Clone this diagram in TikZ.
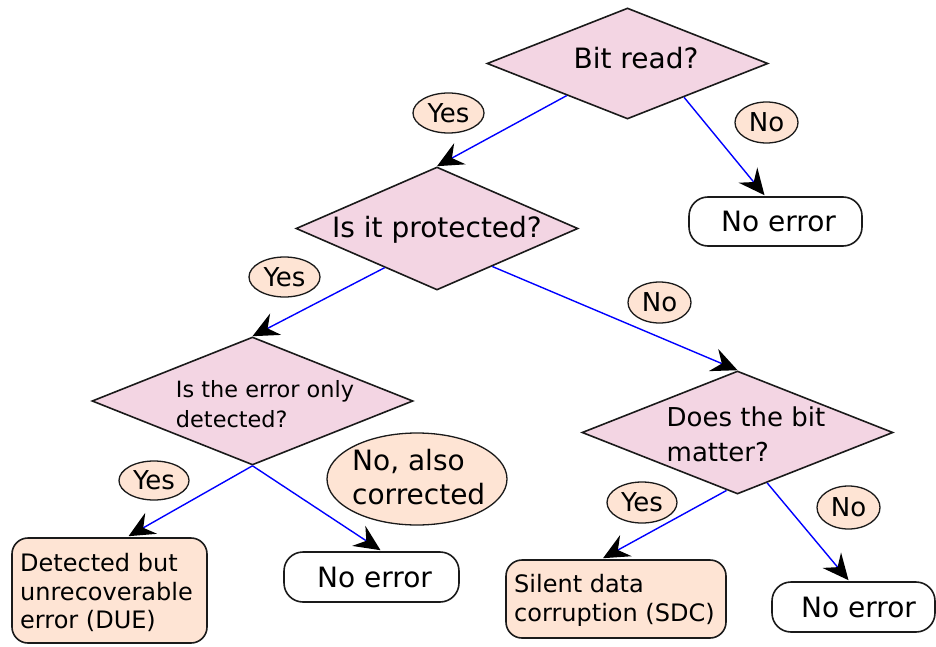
\documentclass[tikz,border=0pt]{standalone}
\usepackage{fontspec}
\setmainfont{DejaVu Sans}
\usetikzlibrary{shapes.geometric,arrows.meta,calc}

\definecolor{decpink}{HTML}{F3D5E3}
\definecolor{peach}{HTML}{FEE4D4}
\definecolor{edgeblack}{HTML}{1A1A1A}

\tikzset{
  decision/.style={diamond, draw=edgeblack, line width=1.6pt, fill=decpink, inner sep=0pt},
  qtext/.style={font=\fontsize{28}{34}\selectfont, align=left, inner sep=0pt},
  qsmall/.style={font=\fontsize{22.4}{30}\selectfont, align=left, inner sep=0pt},
  endbox/.style={draw=edgeblack, line width=1.6pt, rounded corners=19pt, fill=white,
    font=\fontsize{28}{34}\selectfont, inner sep=0pt},
  outbox/.style={draw=edgeblack, line width=1.6pt, rounded corners=16pt, fill=peach, inner sep=0pt},
  outtext/.style={font=\fontsize{24}{28.6}\selectfont, align=left, inner sep=0pt},
  answer/.style={ellipse, draw=edgeblack, line width=1.3pt, fill=peach, inner sep=0pt,
    font=\fontsize{26}{30}\selectfont},
  flow/.style={draw=blue, line width=1.4pt,
    -{Stealth[length=26pt, width=24pt, inset=9pt, color=black]}}
}

\begin{document}
\begin{tikzpicture}[x=1pt, y=-1pt]
  \useasboundingbox (0,0) rectangle (936,647);

  % decision diamonds
  \node[decision, minimum width=281pt, minimum height=111pt] (d1) at (627.5,63.5) {};
  \node[qtext] (d1t) at (636,58) {Bit read?};

  \node[decision, minimum width=282pt, minimum height=123pt] (d2) at (437,228.5) {};
  \node[qtext] (d2t) at (437,230) {Is it protected?};

  \node[decision, minimum width=321pt, minimum height=128pt] (d3) at (252.5,401) {};
  \node[qsmall] (d3t) at (265,404) {Is the error only\\detected?};

  \node[decision, minimum width=311pt, minimum height=123pt] (d4) at (737.5,432.5) {};
  \node[qtext, font=\fontsize{26}{35}\selectfont] (d4t) at (746,434) {Does the bit\\matter?};

  % outcomes
  \node[endbox, minimum width=173pt, minimum height=49pt] (ok1) at (775.5,221.5) {\hspace*{6pt}No error};
  \node[endbox, minimum width=175pt, minimum height=50pt] (ok2) at (371.5,577) {\hspace*{6pt}No error};
  \node[endbox, minimum width=163pt, minimum height=50pt] (ok3) at (853.5,607) {\hspace*{10pt}No error};

  \node[outbox, minimum width=195pt, minimum height=105pt] (due) at (109.5,590.5) {};
  \node[outtext, anchor=north west] (duet) at (20,553)
    {Detected but\\unrecoverable\\error (DUE)};
  \node[outbox, minimum width=220pt, minimum height=78pt] (sdc) at (616,599) {};
  \node[outtext, anchor=north west] (sdct) at (514,574)
    {Silent data\\corruption (SDC)};

  % answer labels
  \node[answer, minimum width=71pt, minimum height=40pt] (y1) at (448.5,113) {Yes};
  \node[answer, minimum width=63pt, minimum height=41pt] (n1) at (766.5,122.5) {No};
  \node[answer, minimum width=71pt, minimum height=40pt] (y2) at (284.5,277) {Yes};
  \node[answer, minimum width=63pt, minimum height=41pt] (n2) at (659.5,302.5) {No};
  \node[answer, minimum width=70pt, minimum height=39pt] (y3) at (154,480.5) {Yes};
  \node[answer, minimum width=180pt, minimum height=92pt] (n3) at (417,479) {};
  \node[qtext, font=\fontsize{28}{34}\selectfont, anchor=north west] (n3t) at (352,449)
    {No, also\\corrected};
  \node[answer, minimum width=70pt, minimum height=41pt] (y4) at (642,502.5) {Yes};
  \node[answer, minimum width=63pt, minimum height=43pt] (n4) at (848.5,507.5) {No};

  % arrow end points at the top of each target
  \coordinate (ok1top) at ($(ok1.north)+(-11,-1)$);
  \coordinate (ok2top) at ($(ok2.north)+(9,-1)$);
  \coordinate (ok3top) at ($(ok3.north)+(-5,-1)$);
  \coordinate (duetop) at ($(due.north)+(19,-1)$);
  \coordinate (sdctop) at ($(sdc.north)+(-13,-1)$);

  % connectors
  \draw[flow] ($(d1.west)!0.57!(d1.south)$) -- (d2.north);
  \draw[flow] ($(d1.east)!0.6!(d1.south)$) -- (ok1top);
  \draw[flow] ($(d2.west)!0.63!(d2.south)$) -- (d3.north);
  \draw[flow] ($(d2.east)!0.61!(d2.south)$) -- (d4.north);
  \draw[flow] (d3.south) -- (duetop);
  \draw[flow] (d3.south) -- (ok2top);
  \draw[flow] ($(d4.west)!0.93!(d4.south)$) -- (sdctop);
  \draw[flow] ($(d4.east)!0.81!(d4.south)$) -- (ok3top);
\end{tikzpicture}
\end{document}
